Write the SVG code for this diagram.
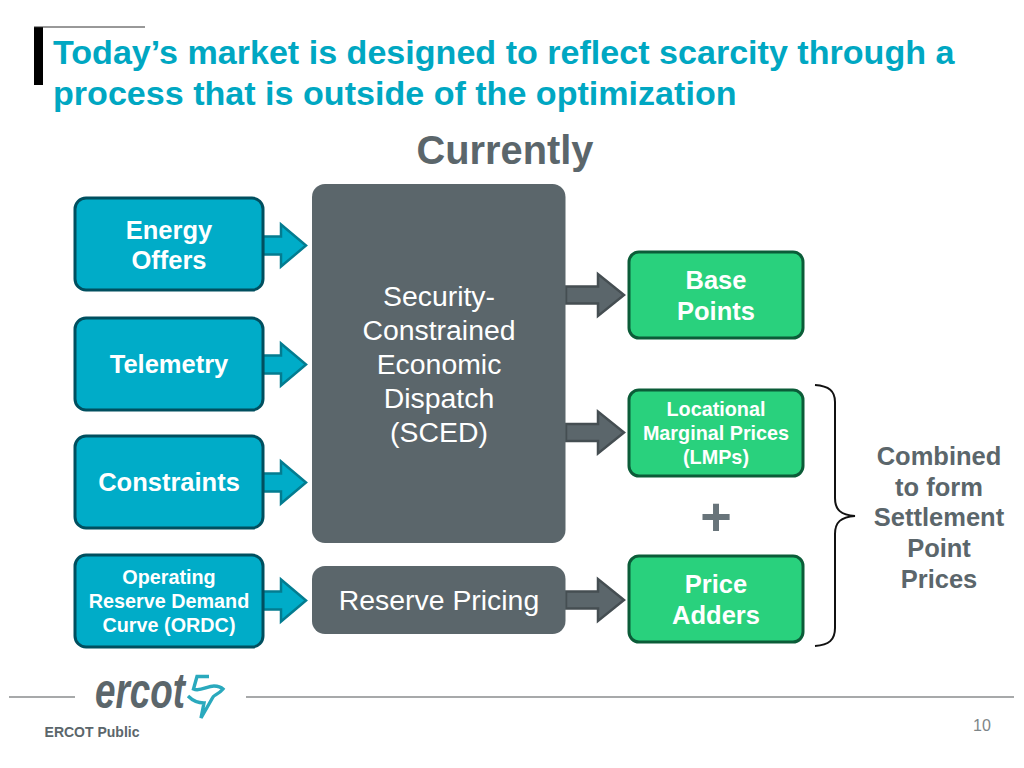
<svg xmlns="http://www.w3.org/2000/svg" width="1024" height="768" viewBox="0 0 1024 768">
<defs>
<style>
text{font-family:"Liberation Sans",Arial,sans-serif;text-anchor:middle}
.b{font-weight:bold;fill:#fff}
.t{font-weight:bold;fill:#00a7c2;font-size:34.100px;text-anchor:start}
.blue{fill:#00acc8;stroke:#004f5f;stroke-width:3}
.green{fill:#29d17d;stroke:#0b5c38;stroke-width:3}
.grey{fill:#5b666b}
.ab{fill:#00acc8;stroke:#037c90;stroke-width:2.500}
.ag{fill:#5b666b;stroke:#454e52;stroke-width:2.500}
.l{fill:none;stroke:#8a8d8e;stroke-width:1.500}
</style>
<path id="ar" d="M0 -9H18V-21L43 0L18 21V9H0Z"/>
<path id="ag" d="M0 -8.500H32V-21L58 0L32 21V8.500H0Z"/>
</defs>
<rect width="1024" height="768" fill="#fff"/>
<g id="title-decor">
<rect x="34" y="27" width="9" height="58" fill="#000"/>
<path d="M34 27H145" stroke="#333" stroke-width="1" fill="none"/>
</g>
<g id="title">
<text class="t" x="53" y="64">Today’s market is designed to reflect scarcity through a</text>
<text class="t" x="53" y="105">process that is outside of the optimization</text>
</g>
<text id="currently" x="505" y="164" font-size="39.800" font-weight="bold" fill="#5b666b">Currently</text>
<g id="connectors">
<use href="#ar" class="ab" x="263" y="245.500"/>
<use href="#ar" class="ab" x="263" y="364.500"/>
<use href="#ar" class="ab" x="263" y="482.500"/>
<use href="#ar" class="ab" x="263" y="600.500"/>
<use href="#ag" class="ag" x="566" y="295"/>
<use href="#ag" class="ag" x="566" y="432.500"/>
<use href="#ag" class="ag" x="566" y="600"/>
</g>
<g id="energy-offers" font-size="25.500">
<rect class="blue" x="75" y="198" width="188" height="92" rx="11"/>
<text class="b" x="169" y="239">Energy</text>
<text class="b" x="169" y="269">Offers</text>
</g>
<g id="telemetry" font-size="25.500">
<rect class="blue" x="75" y="318" width="188" height="92" rx="11"/>
<text class="b" x="169" y="373">Telemetry</text>
</g>
<g id="constraints" font-size="25.500">
<rect class="blue" x="75" y="436" width="188" height="92" rx="11"/>
<text class="b" x="169" y="491">Constraints</text>
</g>
<g id="ordc" font-size="19.800">
<rect class="blue" x="75" y="555" width="188" height="92" rx="11"/>
<text class="b" x="169" y="584">Operating</text>
<text class="b" x="169" y="608">Reserve Demand</text>
<text class="b" x="169" y="632">Curve (ORDC)</text>
</g>
<g id="sced" font-size="28.400" fill="#fff">
<rect class="grey" x="312" y="184" width="253.500" height="359" rx="13"/>
<text x="439" y="306">Security-</text>
<text x="439" y="340">Constrained</text>
<text x="439" y="374">Economic</text>
<text x="439" y="408">Dispatch</text>
<text x="439" y="442">(SCED)</text>
</g>
<g id="reserve-pricing" font-size="28.400" fill="#fff">
<rect class="grey" x="312" y="566" width="253.500" height="68" rx="13"/>
<text x="439" y="610">Reserve Pricing</text>
</g>
<g id="base-points" font-size="25.500">
<rect class="green" x="629" y="252" width="174" height="86" rx="10"/>
<text class="b" x="716" y="289">Base</text>
<text class="b" x="716" y="320">Points</text>
</g>
<g id="lmps" font-size="19.800">
<rect class="green" x="629" y="390" width="174" height="86" rx="10"/>
<text class="b" x="716" y="416">Locational</text>
<text class="b" x="716" y="440">Marginal Prices</text>
<text class="b" x="716" y="464">(LMPs)</text>
</g>
<text id="plus" x="716" y="535" font-size="54" font-weight="bold" fill="#68747a">+</text>
<g id="price-adders" font-size="25.500">
<rect class="green" x="629" y="556" width="174" height="86" rx="10"/>
<text class="b" x="716" y="593">Price</text>
<text class="b" x="716" y="624">Adders</text>
</g>
<g id="brace">
<path d="M815 385C829 386 835 391 835 402V498C835 510 841 515 855 516C841 517 835 522 835 534V628C835 640 829 645 815 646" fill="none" stroke="#111" stroke-width="2"/>
</g>
<g id="combined" font-size="25.500" font-weight="bold" fill="#5b666b">
<text x="939" y="465">Combined</text>
<text x="939" y="496">to form</text>
<text x="939" y="526">Settlement</text>
<text x="939" y="557">Point</text>
<text x="939" y="588">Prices</text>
</g>
<g id="footer">
<path class="l" d="M9 697H75M246 697H1014"/>
<text x="95" y="708" font-size="50" font-style="italic" font-weight="bold" fill="#5b666b" style="text-anchor:start" textLength="90" lengthAdjust="spacingAndGlyphs">ercot</text>
<path d="M209 676.500H197L193.500 689C200 692 207 686 214 686C218 686 221 687 223 689C219 694 214 695 213 697L201 718L204 703C198 703 193 701 188 696" fill="none" stroke="#2aa9bd" stroke-width="3.400"/>
<text x="92" y="737" font-size="14" font-weight="bold" fill="#5b666b">ERCOT Public</text>
<text x="982" y="731" font-size="16" fill="#7d8588">10</text>
</g>
</svg>
